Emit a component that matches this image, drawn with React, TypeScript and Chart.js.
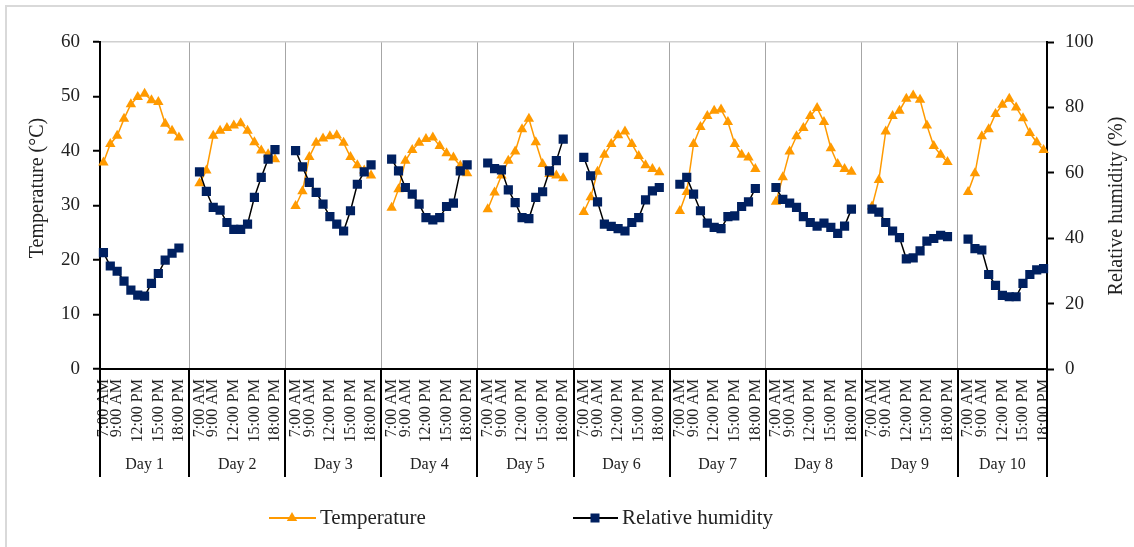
import { useEffect, useRef } from 'react';
import { Chart, registerables } from 'chart.js';

Chart.register(...registerables);

// Ten measurement days, hourly readings from 7:00 to 18:00.
const days = ['Day 1', 'Day 2', 'Day 3', 'Day 4', 'Day 5', 'Day 6', 'Day 7', 'Day 8', 'Day 9', 'Day 10'];
const hourLabels = ['7:00 AM', '', '9:00 AM', '', '', '12:00 PM', '', '', '15:00 PM', '', '', '18:00 PM'];

// Temperature (°C), one row per day.
const temperature: number[][] = [
  [37.9, 41.3, 42.8, 45.9, 48.6, 49.9, 50.5, 49.3, 49.0, 45.0, 43.7, 42.5],
  [34.1, 36.4, 42.8, 43.7, 44.2, 44.7, 45.1, 43.7, 41.6, 40.1, 39.4, 38.5],
  [29.9, 32.6, 38.9, 41.5, 42.3, 42.7, 42.9, 41.5, 38.9, 37.4, 36.4, 35.5],
  [29.6, 33.0, 38.2, 40.2, 41.5, 42.2, 42.5, 40.9, 39.6, 38.8, 37.3, 35.9],
  [29.3, 32.4, 35.5, 38.2, 39.9, 44.0, 45.9, 41.6, 37.6, 35.8, 35.5, 35.0],
  [28.8, 31.5, 36.2, 39.3, 41.3, 42.9, 43.6, 41.3, 39.1, 37.4, 36.7, 36.1],
  [29.0, 32.5, 41.3, 44.4, 46.4, 47.4, 47.6, 45.3, 41.3, 39.3, 38.8, 36.7],
  [30.7, 35.2, 39.9, 42.7, 44.2, 46.4, 47.9, 45.3, 40.5, 37.6, 36.7, 36.2],
  [29.8, 34.7, 43.6, 46.4, 47.4, 49.6, 50.2, 49.4, 44.7, 40.9, 39.3, 38.0],
  [32.5, 35.9, 42.7, 44.0, 46.8, 48.5, 49.6, 48.0, 46.0, 43.3, 41.6, 40.2],
];

// Relative humidity (%), one row per day.
const humidity: number[][] = [
  [35.6, 31.5, 29.9, 26.9, 24.1, 22.6, 22.3, 26.2, 29.2, 33.3, 35.4, 37.0],
  [60.3, 54.3, 49.4, 48.6, 44.8, 42.7, 42.7, 44.3, 52.5, 58.6, 64.2, 67.1],
  [66.8, 61.8, 57.1, 54.0, 50.4, 46.6, 44.3, 42.2, 48.4, 56.5, 60.3, 62.4],
  [64.2, 60.6, 55.5, 53.5, 50.4, 46.3, 45.6, 46.3, 49.7, 50.7, 60.6, 62.4],
  [63.0, 61.3, 60.9, 54.8, 50.9, 46.3, 46.0, 52.5, 54.2, 60.6, 63.7, 70.3],
  [64.7, 59.1, 51.1, 44.3, 43.6, 42.9, 42.2, 44.8, 46.3, 51.7, 54.5, 55.5],
  [56.5, 58.6, 53.5, 48.4, 44.6, 43.3, 42.9, 46.6, 46.8, 49.7, 51.1, 55.2],
  [55.5, 51.9, 50.7, 49.4, 46.6, 44.8, 43.7, 44.6, 43.3, 41.5, 43.7, 48.9],
  [48.9, 48.0, 44.8, 42.2, 40.2, 33.7, 34.0, 36.1, 39.1, 39.9, 40.9, 40.5],
  [39.7, 36.8, 36.4, 28.9, 25.6, 22.5, 22.1, 22.1, 26.2, 28.9, 30.3, 30.7],
];

const tempTicks = { min: 0, max: 60, step: 10 };
const rhTicks = { min: 0, max: 100, step: 20 };

const ORANGE = '#FF9A00';
const NAVY = '#002060';
const TEXT = '#222222';
const SERIF = "'Liberation Serif', 'Times New Roman', serif";

// Two empty slots separate consecutive days on the category axis.
const GAP = 2;
const PER_DAY = hourLabels.length + GAP;

const labels: string[] = [];
const tempSeries: (number | null)[] = [];
const rhSeries: (number | null)[] = [];
days.forEach((_, d) => {
  if (d > 0) {
    for (let g = 0; g < GAP; g++) {
      labels.push('');
      tempSeries.push(null);
      rhSeries.push(null);
    }
  }
  hourLabels.forEach((h, j) => {
    labels.push(h);
    tempSeries.push(temperature[d][j]);
    rhSeries.push(humidity[d][j]);
  });
});

// Category positions (fractional) that split one day from the next.
const dayBoundaries = days.slice(1).map((_, i) => (i + 1) * PER_DAY - 1.5);

const decorations = {
  id: 'decorations',
  beforeDraw(chart: any) {
    const { ctx } = chart;
    ctx.save();
    ctx.strokeStyle = '#d9d9d9';
    ctx.lineWidth = 2;
    ctx.beginPath();
    ctx.moveTo(6, chart.height);
    ctx.lineTo(6, 6);
    ctx.lineTo(chart.width, 6);
    ctx.stroke();
    ctx.restore();
  },
  afterDraw(chart: any) {
    const { ctx, chartArea } = chart;
    const x = chart.scales.x;
    const edges = [chartArea.left, ...dayBoundaries.map((v) => x.getPixelForValue(v)), chartArea.right];

    ctx.save();
    // Group separators under the category axis
    ctx.strokeStyle = '#000';
    ctx.lineWidth = 2;
    edges.forEach((e) => {
      ctx.beginPath();
      ctx.moveTo(Math.round(e), chartArea.bottom);
      ctx.lineTo(Math.round(e), 477);
      ctx.stroke();
    });

    // Day names
    ctx.fillStyle = TEXT;
    ctx.font = `16px ${SERIF}`;
    ctx.textAlign = 'center';
    ctx.textBaseline = 'middle';
    days.forEach((d, i) => {
      ctx.fillText(d, (edges[i] + edges[i + 1]) / 2, 465);
    });

    // Axis titles
    ctx.font = `20px ${SERIF}`;
    ctx.save();
    ctx.translate(38, 188);
    ctx.rotate(-Math.PI / 2);
    ctx.fillText('Temperature (°C)', 0, 0);
    ctx.restore();
    ctx.save();
    ctx.translate(1117, 206);
    ctx.rotate(-Math.PI / 2);
    ctx.fillText('Relative humidity (%)', 0, 0);
    ctx.restore();

    // Legend
    const ly = 518;
    ctx.lineWidth = 2;
    ctx.strokeStyle = ORANGE;
    ctx.beginPath();
    ctx.moveTo(269, ly);
    ctx.lineTo(316, ly);
    ctx.stroke();
    ctx.fillStyle = ORANGE;
    const r = 6;
    ctx.beginPath();
    ctx.moveTo(292, ly - r);
    ctx.lineTo(292 + r * 0.866, ly + r * 0.5);
    ctx.lineTo(292 - r * 0.866, ly + r * 0.5);
    ctx.closePath();
    ctx.fill();

    ctx.strokeStyle = '#000';
    ctx.beginPath();
    ctx.moveTo(573, ly);
    ctx.lineTo(618, ly);
    ctx.stroke();
    ctx.fillStyle = NAVY;
    ctx.fillRect(595 - 4.5, ly - 4.5, 9, 9);

    ctx.fillStyle = TEXT;
    ctx.font = `21px ${SERIF}`;
    ctx.textAlign = 'left';
    ctx.fillText('Temperature', 320, ly);
    ctx.fillText('Relative humidity', 622, ly);
    ctx.restore();
  },
};

export default function App() {
  const canvasRef = useRef<HTMLCanvasElement | null>(null);

  useEffect(() => {
    if (!canvasRef.current) return;
    const chart = new Chart(canvasRef.current, {
      type: 'line',
      data: {
        labels,
        datasets: [
          {
            label: 'Relative humidity',
            data: rhSeries,
            yAxisID: 'yRH',
            order: 0,
            borderColor: '#000',
            borderWidth: 1.5,
            pointStyle: 'rect',
            pointRadius: 6.5,
            pointBorderWidth: 0,
            pointBackgroundColor: NAVY,
            pointBorderColor: NAVY,
            tension: 0,
            spanGaps: false,
          },
          {
            label: 'Temperature',
            data: tempSeries,
            yAxisID: 'yT',
            order: 1,
            borderColor: ORANGE,
            borderWidth: 1.5,
            pointStyle: 'triangle',
            pointRadius: 6,
            pointBorderWidth: 0,
            pointBackgroundColor: ORANGE,
            pointBorderColor: ORANGE,
            tension: 0,
            spanGaps: false,
          },
        ],
      },
      options: {
        animation: false,
        responsive: false,
        devicePixelRatio: 1,
        layout: { padding: { top: 42, left: 0, right: 0, bottom: 0 } },
        plugins: { legend: { display: false }, tooltip: { enabled: false } },
        font: { family: SERIF },
        scales: {
          x: {
            type: 'category',
            offset: true,
            afterFit: (s: any) => {
              s.height = 547 - 369;
            },
            grid: {
              offset: true,
              drawTicks: false,
              lineWidth: 1,
              color: (c: any) => (c.index % PER_DAY === PER_DAY - 1 ? '#a6a6a6' : 'rgba(0,0,0,0)'),
            },
            border: { display: true, color: '#000', width: 2 },
            ticks: {
              autoSkip: false,
              minRotation: 90,
              maxRotation: 90,
              padding: 10,
              color: TEXT,
              font: { family: SERIF, size: 16 },
            },
          },
          yT: {
            type: 'linear',
            position: 'left',
            min: tempTicks.min,
            max: tempTicks.max,
            afterFit: (s: any) => {
              s.width = 100;
            },
            grid: {
              drawOnChartArea: true,
              color: (c: any) => (c.tick && c.tick.value === tempTicks.max ? '#d0d0d0' : 'rgba(0,0,0,0)'),
              lineWidth: 1.5,
              tickColor: '#000',
              tickWidth: 2,
              tickLength: 7,
            },
            border: { display: true, color: '#000', width: 2 },
            ticks: {
              stepSize: tempTicks.step,
              padding: 13,
              color: TEXT,
              font: { family: SERIF, size: 19 },
            },
          },
          yRH: {
            type: 'linear',
            position: 'right',
            min: rhTicks.min,
            max: rhTicks.max,
            afterFit: (s: any) => {
              s.width = 1134 - 1047;
            },
            grid: {
              drawOnChartArea: false,
              tickColor: '#000',
              tickWidth: 2,
              tickLength: 7,
            },
            border: { display: true, color: '#000', width: 2 },
            ticks: {
              stepSize: rhTicks.step,
              padding: 11,
              color: TEXT,
              font: { family: SERIF, size: 19 },
            },
          },
        },
      },
      plugins: [decorations],
    } as any);
    return () => chart.destroy();
  }, []);

  return (
    <div style={{ position: 'fixed', left: 0, top: 0, width: 1134, height: 547, background: '#fff' }}>
      <canvas ref={canvasRef} width={1134} height={547} style={{ display: 'block' }} />
    </div>
  );
}
